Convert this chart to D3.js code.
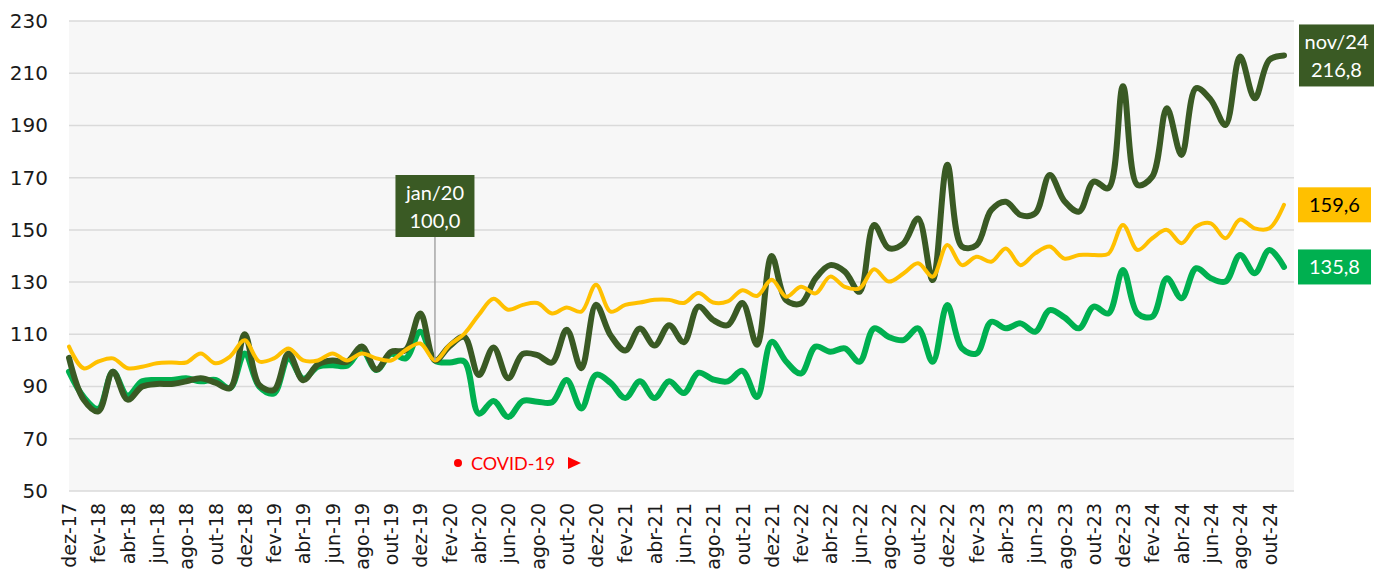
<!DOCTYPE html>
<html>
<head>
<meta charset="utf-8">
<script src="https://cdn.jsdelivr.net/npm/d3@7"></script>
<style>
  body { margin: 0; background: #fff; }
</style>
</head>
<body>
<div id="chart"></div>
<script>
// Month categories, dez-17 to nov-24
const monthNames = ["jan","fev","mar","abr","mai","jun","jul","ago","set","out","nov","dez"];
const months = ["dez-17"];
for (let yr = 18; yr <= 24; yr++) {
  monthNames.forEach(m => { if (!(yr === 24 && m === "dez")) months.push(m + "-" + yr); });
}

// Tick values on the y axis
const yTicks = [50, 70, 90, 110, 130, 150, 170, 190, 210, 230];

// Dark green series
const darkValues = [101, 85, 80.5, 95.7, 85, 90, 91, 91, 92, 93.2, 91.5, 89.4,
  110, 90.6, 88.7, 102.7, 92.4, 98.5, 100, 99.5, 105.3, 96.5, 103.3, 104,
  118, 100, 105.5, 109, 94.4, 105, 93.2, 102.5, 102, 99.2, 111.8, 97,
  121.3, 109.6, 103.8, 112.2, 105.7, 113.5, 107, 120.6, 115.5, 113.5, 122, 106,
  140, 123, 121.8, 131.4, 136.5, 134, 126.3, 151.9, 143, 144.8, 154.4, 130.8,
  174.9, 143.6, 144.2, 157.6, 160.8, 155.7, 156.3, 171, 161, 157, 168.5, 166,
  205, 167.2, 170.4, 196.6, 178.7, 204.3, 199.8, 190.2, 216.4, 200.4, 215.1, 216.8];

// Yellow series
const yellowValues = [105.3, 97, 99.6, 100.8, 97, 97.6, 98.9, 99.2, 99.2, 102.7, 98.9, 101.5,
  107.7, 99.6, 100.8, 104.6, 100, 100, 102.7, 100, 102.7, 100.8, 100, 104,
  106.5, 100, 105.9, 110.2, 117.5, 123.6, 119.4, 121.3, 122, 118, 120.3, 118.7,
  129, 118.7, 121.3, 122.2, 123.2, 123.2, 122, 125.8, 122.2, 122.6, 126.9, 124.7,
  130.9, 124.4, 128.2, 125.7, 132.1, 128.2, 127.6, 134.9, 130.2, 133.3, 137.2, 132.1,
  144.2, 136.5, 139.7, 137.8, 142.9, 136.5, 141, 143.6, 139, 140.4, 140.4, 140.8,
  151.9, 142.3, 146.8, 150, 144.9, 151.3, 152.5, 146.8, 154, 150.6, 150.6, 159.6];

// Green series
const greenValues = [95.7, 86, 81.5, 95.7, 86.5, 92, 92.5, 92.5, 93.2, 92, 92.5, 89.4,
  102.7, 90, 87.4, 100.8, 93, 97.6, 98.2, 98, 104, 96.3, 102.5, 100.8,
  111, 100, 99.2, 99.6, 79.6, 84.5, 78.3, 84.5, 84.2, 84, 92.5, 81.6,
  94.5, 91.4, 85.6, 92, 85.6, 92, 87.5, 95.3, 92.7, 92, 96, 86,
  107.1, 99.5, 95, 105.3, 103.3, 104.6, 99.5, 112.3, 109, 107.8, 112.3, 99.5,
  121.2, 104.6, 102.7, 114.8, 112.3, 114.2, 111, 119.3, 116.5, 112.3, 120.6, 118,
  134.6, 118, 116.8, 131.5, 123.8, 135.3, 131.5, 130.2, 140.4, 133.4, 142.3, 135.8];

const width = 1376, height = 576;
const margin = { top: 21, right: 82, bottom: 85, left: 69 };
const plotRight = width - margin.right;
const plotBottom = height - margin.bottom;

const svg = d3.select("#chart")
  .append("svg")
  .attr("width", width)
  .attr("height", height);

const x = d3.scalePoint()
  .domain(months)
  .range([margin.left, 1284]);

const y = d3.scaleLinear()
  .domain([50, 230])
  .range([plotBottom, margin.top]);

// Plot background
svg.append("rect")
  .attr("x", margin.left)
  .attr("y", margin.top)
  .attr("width", plotRight - margin.left)
  .attr("height", plotBottom - margin.top)
  .attr("fill", "#f7f7f7");

// Gridlines
svg.append("g")
  .selectAll("line")
  .data(yTicks)
  .enter()
  .append("line")
  .attr("x1", margin.left)
  .attr("x2", plotRight)
  .attr("y1", d => y(d))
  .attr("y2", d => y(d))
  .attr("stroke", "#dadada")
  .attr("stroke-width", 1.5);

// Y axis labels
const yAxis = svg.append("g")
  .attr("transform", `translate(${margin.left - 21},0)`)
  .call(d3.axisLeft(y).tickValues(yTicks).tickSize(0).tickPadding(0));
yAxis.select(".domain").remove();
yAxis.selectAll("text")
  .style("font-family", "DejaVu Sans")
  .style("font-size", "20px")
  .attr("fill", "#1a1a1a");

// X axis labels (every second month)
const xAxis = svg.append("g")
  .attr("transform", `translate(0,${plotBottom})`)
  .call(d3.axisBottom(x).tickValues(months.filter((d, i) => i % 2 === 0)).tickSize(0));
xAxis.select(".domain").remove();
xAxis.selectAll("text")
  .style("font-family", "DejaVu Sans")
  .style("font-size", "19px")
  .attr("fill", "#1a1a1a")
  .style("text-anchor", "end")
  .attr("dy", "0.35em")
  .attr("transform", "translate(0,12) rotate(-90)")
  .attr("x", 0)
  .attr("y", 0);

// Lines
const makeLine = values => d3.line()
  .x((d, i) => x(months[i]))
  .y(d => y(d))
  .curve(d3.curveCatmullRom.alpha(0.5))(values);

svg.append("path")
  .attr("d", makeLine(greenValues))
  .attr("fill", "none")
  .attr("stroke", "#00b050")
  .attr("stroke-width", 6)
  .attr("stroke-linecap", "round")
  .attr("stroke-linejoin", "round");

svg.append("path")
  .attr("d", makeLine(darkValues))
  .attr("fill", "none")
  .attr("stroke", "#3a5a24")
  .attr("stroke-width", 6)
  .attr("stroke-linecap", "round")
  .attr("stroke-linejoin", "round");

svg.append("path")
  .attr("d", makeLine(yellowValues))
  .attr("fill", "none")
  .attr("stroke", "#ffc000")
  .attr("stroke-width", 4)
  .attr("stroke-linecap", "round")
  .attr("stroke-linejoin", "round");

// jan/20 annotation
const baseIdx = months.indexOf("jan-20");
const bx = x(months[baseIdx]);
svg.append("line")
  .attr("x1", bx).attr("x2", bx)
  .attr("y1", 237).attr("y2", y(darkValues[baseIdx]))
  .attr("stroke", "#a6a6a6")
  .attr("stroke-width", 1.5);

svg.append("rect")
  .attr("x", bx - 39.5).attr("y", 175)
  .attr("width", 79).attr("height", 62)
  .attr("fill", "#3a5a24");

svg.append("text")
  .attr("x", bx).attr("y", 200)
  .attr("text-anchor", "middle")
  .style("font-family", "Lato")
  .style("font-size", "20px")
  .attr("fill", "#fff")
  .text("jan/20");
svg.append("text")
  .attr("x", bx).attr("y", 228)
  .attr("text-anchor", "middle")
  .style("font-family", "Lato")
  .style("font-size", "20px")
  .attr("fill", "#fff")
  .text(d3.format(".1f")(darkValues[baseIdx]).replace(".", ","));

// COVID-19 marker
svg.append("circle")
  .attr("cx", 458).attr("cy", 463).attr("r", 4)
  .attr("fill", "#ff0000");
svg.append("text")
  .attr("x", 471).attr("y", 469.5)
  .style("font-family", "Lato")
  .style("font-size", "18px")
  .attr("fill", "#ff0000")
  .text("COVID-19");
svg.append("path")
  .attr("d", "M568,457 L581,463 L568,469 Z")
  .attr("fill", "#ff0000");

// End labels
const last = months.length - 1;
const fmt = v => d3.format(".1f")(v).replace(".", ",");

const darkY = y(darkValues[last]);
svg.append("rect")
  .attr("x", 1299).attr("y", darkY - 31)
  .attr("width", 75).attr("height", 62)
  .attr("fill", "#3a5a24");
svg.append("text")
  .attr("x", 1336.5).attr("y", darkY - 6)
  .attr("text-anchor", "middle")
  .style("font-family", "Lato")
  .style("font-size", "20px")
  .attr("fill", "#fff")
  .text("nov/24");
svg.append("text")
  .attr("x", 1336.5).attr("y", darkY + 22)
  .attr("text-anchor", "middle")
  .style("font-family", "Lato")
  .style("font-size", "20px")
  .attr("fill", "#fff")
  .text(fmt(darkValues[last]));

[[yellowValues, "#ffc000", "#000"], [greenValues, "#00b050", "#fff"]].forEach(([vals, bg, fg]) => {
  const yy = y(vals[last]);
  svg.append("rect")
    .attr("x", 1298).attr("y", yy - 17.5)
    .attr("width", 73).attr("height", 35)
    .attr("fill", bg);
  svg.append("text")
    .attr("x", 1334.5).attr("y", yy + 7)
    .attr("text-anchor", "middle")
    .style("font-family", "Lato")
    .style("font-size", "20px")
    .attr("fill", fg)
    .text(fmt(vals[last]));
});
</script>
</body>
</html>
